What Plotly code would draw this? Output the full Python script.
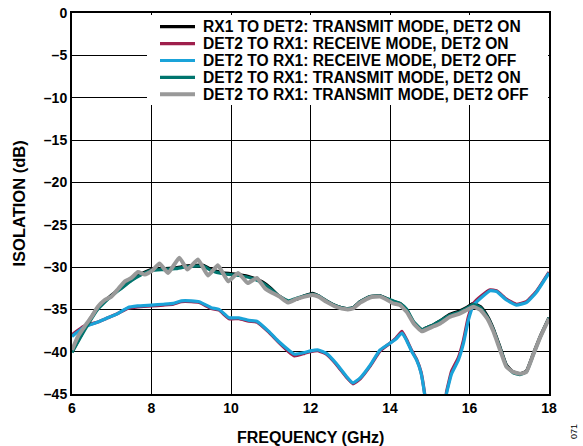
import plotly.graph_objects as go

# Isolation vs frequency, 6 GHz to 18 GHz
names = [
    "RX1 TO DET2: TRANSMIT MODE, DET2 ON",
    "DET2 TO RX1: RECEIVE MODE, DET2 ON",
    "DET2 TO RX1: RECEIVE MODE, DET2 OFF",
    "DET2 TO RX1: TRANSMIT MODE, DET2 ON",
    "DET2 TO RX1: TRANSMIT MODE, DET2 OFF",
]

freq_tx_on = [6.0, 6.2, 6.4, 6.65, 7.0, 7.25, 7.5, 7.75, 8.0, 8.3, 8.6, 8.85, 9.1, 9.3,
              9.5, 9.8, 10.2, 10.5, 10.8, 11.0, 11.2, 11.45, 11.65, 11.85, 12.05, 12.2,
              12.4, 12.65, 12.9, 13.07, 13.25, 13.5, 13.75, 13.9, 14.08, 14.25, 14.42,
              14.6, 14.8, 14.95, 15.1, 15.25, 15.5, 15.75, 15.92, 16.1, 16.28, 16.45,
              16.6, 16.77, 16.93, 17.1, 17.27, 17.43, 17.6, 17.77, 18.0]
rx1_det2_tx_on = [-40.0, -38.3, -36.6, -34.8, -33.3, -32.4, -31.5, -30.8, -30.3, -30.2,
                  -30.1, -29.9, -29.8, -29.8, -30.3, -30.7, -30.9, -31.2, -31.8, -32.5,
                  -33.4, -34.1, -33.8, -33.4, -33.1, -33.4, -34.0, -34.6, -34.9, -34.8,
                  -34.1, -33.5, -33.4, -33.7, -34.1, -34.3, -35.1, -36.6, -37.4, -37.1,
                  -36.8, -36.4, -35.6, -35.2, -34.8, -34.3, -34.7, -35.8, -37.3, -39.5,
                  -41.6, -42.4, -42.6, -42.3, -40.3, -38.3, -36.0]
det2_rx1_tx_on = [-40.1, -38.4, -36.8, -35.0, -33.4, -32.5, -31.6, -30.9, -30.4, -30.3,
                  -30.2, -30.0, -29.9, -29.9, -30.4, -30.8, -31.0, -31.3, -31.9, -32.6,
                  -33.4, -34.0, -33.7, -33.4, -33.2, -33.4, -34.0, -34.6, -34.9, -34.8,
                  -34.1, -33.5, -33.4, -33.7, -34.0, -34.3, -35.0, -36.5, -37.4, -37.1,
                  -36.8, -36.4, -35.7, -35.3, -34.9, -34.4, -34.8, -35.9, -37.4, -39.6,
                  -41.7, -42.5, -42.7, -42.4, -40.4, -38.4, -36.0]

freq_tx_off = [6.0, 6.15, 6.32, 6.49, 6.65, 6.82, 6.99, 7.16, 7.33, 7.49, 7.66, 7.83, 8.0,
               8.2, 8.42, 8.7, 8.9, 9.17, 9.42, 9.67, 9.93, 10.18, 10.42, 10.65, 10.85,
               11.02, 11.22, 11.43, 11.64, 11.85, 12.05, 12.2, 12.4, 12.65, 12.9, 13.07,
               13.25, 13.5, 13.75, 13.9, 14.08, 14.25, 14.42, 14.6, 14.8, 14.95, 15.1,
               15.25, 15.5, 15.75, 15.92, 16.1, 16.28, 16.45, 16.6, 16.77, 16.93, 17.1,
               17.27, 17.43, 17.6, 17.77, 18.0]
det2_rx1_tx_off = [-39.8, -38.2, -37.0, -35.9, -34.7, -33.9, -33.5, -32.6, -31.7, -31.3,
                   -30.6, -30.9, -30.5, -29.6, -30.7, -28.9, -30.3, -29.1, -31.0, -29.8,
                   -31.7, -30.7, -31.9, -31.3, -32.5, -33.0, -33.5, -34.2, -33.8, -33.5,
                   -33.3, -33.5, -34.1, -34.7, -35.0, -34.9, -34.2, -33.6, -33.5, -33.8,
                   -34.3, -34.5, -35.3, -36.7, -37.6, -37.3, -37.0, -36.7, -35.9, -35.5,
                   -35.1, -34.7, -35.1, -36.1, -37.6, -39.8, -41.8, -42.4, -42.6, -42.4,
                   -40.4, -38.4, -36.1]

freq_rx = [6.0, 6.3, 6.65, 6.9, 7.15, 7.4, 7.65, 8.0, 8.3, 8.55, 8.75, 9.0, 9.2, 9.5, 9.7,
           9.95, 10.2, 10.45, 10.65, 10.95, 11.2, 11.45, 11.6, 11.85, 12.0, 12.2, 12.4,
           12.65, 12.9, 13.07, 13.25, 13.5, 13.75, 14.0, 14.15, 14.3, 14.42, 14.55, 14.67,
           14.78, 14.87, 14.95, 15.35, 15.42, 15.55, 15.72, 15.85, 15.97, 16.1, 16.3,
           16.52, 16.68, 16.93, 17.18, 17.43, 17.68, 18.0]
det2_rx1_rx_on = [-38.0, -37.0, -36.5, -36.0, -35.5, -34.9, -34.7, -34.6, -34.5, -34.4,
                  -34.1, -34.1, -34.2, -34.9, -35.1, -36.1, -36.1, -36.4, -36.5, -37.7,
                  -38.9, -40.0, -40.5, -40.2, -40.0, -39.9, -40.3, -41.5, -43.0, -43.8,
                  -43.2, -41.7, -39.9, -39.0, -38.4, -37.6, -38.6, -39.9, -40.9, -42.4,
                  -44.9, -48.0, -48.0, -44.8, -42.3, -40.7, -38.6, -35.9, -34.3, -33.4,
                  -32.7, -32.8, -33.8, -34.4, -34.1, -32.9, -30.6]
det2_rx1_rx_off = [-38.2, -37.1, -36.5, -36.0, -35.5, -34.8, -34.6, -34.5, -34.4, -34.3,
                   -34.0, -34.0, -34.1, -34.8, -35.0, -36.0, -36.0, -36.3, -36.4, -37.6,
                   -38.8, -39.8, -40.3, -40.1, -39.9, -39.8, -40.2, -41.4, -42.9, -43.7,
                   -43.1, -41.6, -39.8, -39.0, -38.5, -37.8, -38.7, -40.0, -41.0, -42.5,
                   -45.0, -48.0, -48.0, -45.0, -42.6, -41.0, -39.0, -36.3, -34.5, -33.6,
                   -32.8, -32.9, -33.9, -34.5, -34.2, -33.0, -30.7]

y_ticks = [0, -5, -10, -15, -20, -25, -30, -35, -40, -45]
y_tick_text = ["0", "–5", "–10", "–15", "–20", "–25", "–30", "–35", "–40", "–45"]
x_ticks = [6, 8, 10, 12, 14, 16, 18]
x_tick_text = ["6", "8", "10", "12", "14", "16", "18"]

series = [
    (freq_tx_on, rx1_det2_tx_on, names[0], "#000000", 3.2),
    (freq_rx, det2_rx1_rx_on, names[1], "#9e1f4c", 3.2),
    (freq_rx, det2_rx1_rx_off, names[2], "#1aa3d9", 3.2),
    (freq_tx_on, det2_rx1_tx_on, names[3], "#00756e", 3.2),
    (freq_tx_off, det2_rx1_tx_off, names[4], "#999999", 4.0),
]

font_family = "Liberation Sans, Arial, sans-serif"

fig = go.Figure()
for xs, ys, name, color, width in series:
    fig.add_trace(go.Scatter(
        x=xs, y=ys, name=name, mode="lines", showlegend=False,
        line=dict(color=color, width=width, shape="spline", smoothing=0.4),
    ))

# Plot area in pixels: left 72, right 549, top 13, bottom 394
L, R, T, B = 72, 549, 13, 394


def px_x(p):
    return (p - L) / (R - L)


def px_y(p):
    return (B - p) / (B - T)


# Key box drawn over the grid in the upper part of the plot
shapes = [dict(type="rect", xref="paper", yref="paper",
               x0=px_x(147), x1=px_x(548), y0=px_y(105), y1=px_y(15),
               fillcolor="white", line=dict(width=0), layer="above")]
annotations = []
row_y = [26.7, 43.6, 60.5, 77.4, 94.3]
for (xs, ys, name, color, width), ry in zip(series, row_y):
    shapes.append(dict(type="line", xref="paper", yref="paper",
                       x0=px_x(160), x1=px_x(195), y0=px_y(ry), y1=px_y(ry),
                       line=dict(color=color, width=width), layer="above"))
    annotations.append(dict(text="<b>" + name + "</b>", xref="paper", yref="paper",
                            x=px_x(201), y=px_y(ry), xanchor="left", yanchor="middle",
                            showarrow=False,
                            font=dict(family=font_family, size=15.6, color="black")))

annotations.append(dict(text="<b>FREQUENCY (GHz)</b>", xref="paper", yref="paper",
                        x=0.5, y=px_y(437), xanchor="center", yanchor="middle",
                        showarrow=False,
                        font=dict(family=font_family, size=16, color="black")))
annotations.append(dict(text="<b>ISOLATION (dB)</b>", xref="paper", yref="paper",
                        x=px_x(18), y=0.5, xanchor="center", yanchor="middle",
                        textangle=-90, showarrow=False,
                        font=dict(family=font_family, size=16.5, color="black")))
annotations.append(dict(text="071", xref="paper", yref="paper",
                        x=px_x(574), y=px_y(432), xanchor="center", yanchor="middle",
                        textangle=-90, showarrow=False,
                        font=dict(family=font_family, size=9, color="black")))

fig.update_layout(
    width=583, height=446,
    margin=dict(l=L, r=583 - R, t=T, b=446 - B),
    paper_bgcolor="white", plot_bgcolor="white",
    font=dict(family=font_family, size=14, color="black"),
    showlegend=False,
    shapes=shapes,
    annotations=annotations,
    xaxis=dict(
        range=[6, 18], tickvals=x_ticks,
        ticktext=["<b>" + t + "</b>" for t in x_tick_text], ticks="",
        showgrid=True, gridcolor="black", gridwidth=1.2,
        showline=True, linecolor="black", linewidth=2, mirror=True,
        zeroline=False, automargin=False,
        tickfont=dict(size=14),
    ),
    yaxis=dict(
        range=[-45, 0], tickvals=y_ticks,
        ticktext=["<b>" + t + "</b>" for t in y_tick_text], ticks="",
        showgrid=True, gridcolor="black", gridwidth=1.2,
        showline=True, linecolor="black", linewidth=2, mirror=True,
        zeroline=False, automargin=False,
        tickfont=dict(size=14),
    ),
)

fig.write_html("out.html")
